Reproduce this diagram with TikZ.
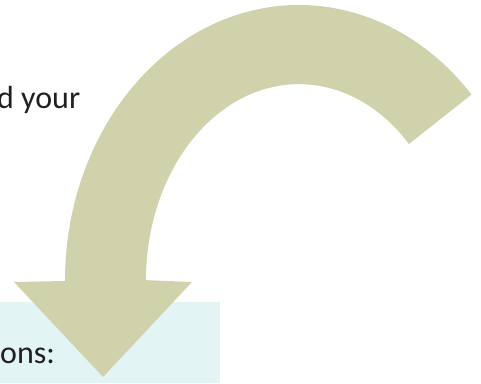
\documentclass[tikz,border=0pt]{standalone}
\usepackage{fontspec}
\setmainfont{Carlito}
\usetikzlibrary{positioning}
\definecolor{arrowkhaki}{HTML}{D0D2AC}
\definecolor{panelblue}{HTML}{E3F4F5}
\definecolor{inkgray}{HTML}{231F20}

\begin{document}
\begin{tikzpicture}[x=1pt, y=1pt,
  txt/.style={font=\fontsize{32}{38}\selectfont, text=inkgray, inner sep=0pt},
  panel/.style={fill=panelblue, draw=none},
  bigarrow/.style={fill=arrowkhaki, draw=none}]
\useasboundingbox (0,0) rectangle (481,383);
\clip (0,0) rectangle (481,383);
% text panel at the bottom
\path[panel] (0,0) rectangle (220,81);
\node[txt, anchor=base west] (topline) at (-3,274) {d your};
\node[txt, anchor=base west] (panelline) at (0,20) {ons:};
% curved arrow: shaft and head
\path[bigarrow] (65,102)
  arc[start angle=180, end angle=42.5, x radius=234, y radius=276]
  -- (409,239)
  arc[start angle=44, end angle=180, x radius=153, y radius=196]
  -- (192,101) -- (103,6) -- (14,101) -- cycle;
\end{tikzpicture}
\end{document}
